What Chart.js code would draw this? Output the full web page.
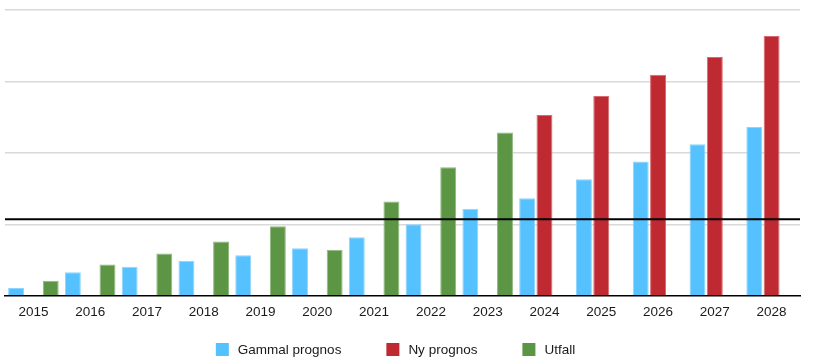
<!DOCTYPE html>
<html><head><meta charset="utf-8">
<script src="https://cdn.jsdelivr.net/npm/chart.js@4.4.1/dist/chart.umd.min.js"></script>
<style>html,body{margin:0;padding:0;background:#fff}</style>
</head><body>
<canvas id="c" width="819" height="364"></canvas>
<script>
const years = ['2015','2016','2017','2018','2019','2020','2021','2022','2023','2024','2025','2026','2027','2028'];
const gammalPrognos = [10.8, 33.1, 40.6, 49.0, 56.9, 66.7, 82.1, 100.3, 121.7, 136.6, 163.2, 187.8, 212.2, 236.4];
const nyPrognos = [null, null, null, null, null, null, null, null, null, 253.0, 279.7, 309.5, 334.3, 363.6];
const utfall = [21.0, 43.8, 59.2, 76.0, 97.5, 64.3, 131.9, 180.0, 228.4, null, null, null, null, null];
const referensniva = 107;
const seriesNames = ['Gammal prognos', 'Ny prognos', 'Utfall'];

const FONT = '"Liberation Sans", Arial, Helvetica, sans-serif';

const thresholdPlugin = {
  id: 'threshold',
  afterDatasetsDraw(chart) {
    const ctx = chart.ctx;
    const y = chart.scales.y.getPixelForValue(referensniva);
    const {left, right} = chart.chartArea;
    ctx.save();
    ctx.strokeStyle = '#000';
    ctx.lineWidth = 2;
    ctx.beginPath();
    ctx.moveTo(left, y);
    ctx.lineTo(right, y);
    ctx.stroke();
    ctx.restore();
  }
};

const legendPlugin = {
  id: 'customLegend',
  afterDraw(chart) {
    const ctx = chart.ctx;
    ctx.save();
    ctx.font = '13.5px ' + FONT;
    const box = 13, gap = 9, spacing = 45;
    const items = chart.data.datasets.map(ds => ({
      text: ds.label, color: ds.backgroundColor,
      w: box + gap + ctx.measureText(ds.label).width
    }));
    const total = items.reduce((s, i) => s + i.w, 0) + spacing * (items.length - 1);
    const cx = (chart.chartArea.left + chart.chartArea.right) / 2 - 7;
    let x = cx - total / 2;
    const yTop = 343;
    ctx.textBaseline = 'middle';
    ctx.textAlign = 'left';
    items.forEach(it => {
      ctx.fillStyle = it.color;
      ctx.fillRect(x, yTop, box, box);
      ctx.fillStyle = '#1a1a1a';
      ctx.fillText(it.text, x + box + gap, yTop + box / 2 + 0.5);
      x += it.w + spacing;
    });
    ctx.restore();
  }
};

new Chart(document.getElementById('c'), {
  type: 'bar',
  data: {
    labels: years,
    datasets: [
      { label: seriesNames[0], data: gammalPrognos, backgroundColor: '#56C1FF', borderColor: '#8DD5FF' },
      { label: seriesNames[1], data: nyPrognos, backgroundColor: '#BF2A32', borderColor: '#D66A70' },
      { label: seriesNames[2], data: utfall, backgroundColor: '#5C9645', borderColor: '#8FB97F' }
    ]
  },
  options: {
    responsive: false,
    animation: false,
    devicePixelRatio: 1,
    datasets: {
      bar: { categoryPercentage: 0.915, barPercentage: 0.92, borderWidth: 1, borderSkipped: 'start' }
    },
    layout: { padding: { top: 10, left: 5, right: 19, bottom: 36 } },
    plugins: { legend: { display: false }, tooltip: { enabled: false } },
    scales: {
      x: {
        grid: { display: false, drawTicks: false },
        border: { display: true, color: '#000', width: 1.5 },
        ticks: { color: '#1a1a1a', font: { family: FONT, size: 13.5 }, padding: 8, maxRotation: 0 }
      },
      y: {
        min: 0, max: 400,
        ticks: { display: false, stepSize: 100 },
        border: { display: false },
        grid: {
          drawTicks: false,
          color: c => c.tick && c.tick.value === 0 ? 'rgba(0,0,0,0)' : '#d9d9d9',
          lineWidth: 1.5
        }
      }
    }
  },
  plugins: [thresholdPlugin, legendPlugin]
});
</script>
</body></html>
